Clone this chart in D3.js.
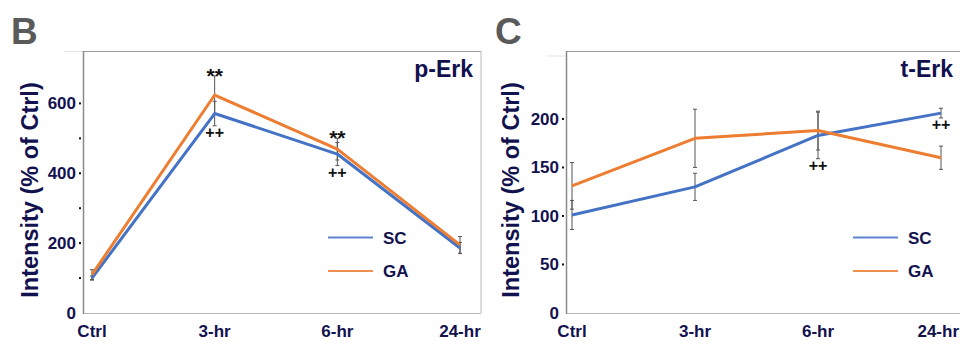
<!DOCTYPE html>
<html>
<head>
<meta charset="utf-8">
<script src="https://cdn.jsdelivr.net/npm/d3@7"></script>
<style>
body{margin:0;background:#fff;}
text{font-family:"Liberation Sans",Arial,sans-serif;font-weight:bold;}
</style>
</head>
<body>
<div id="STATS"></div>
<script>
var aTimes=["Ctrl","3-hr","6-hr","24-hr"];

// panel B, p-Erk
var aPErkSC=[100,571,455,186];
var aPErkSCErr=[6,35,33,16];
var aPErkGA=[110,624,469,195];
var aPErkGAErr=[14,55,31,24];
var aPErkStars=["","**","**",""];
var aPErkPlus=["","++","++",""];
var aPErkTicks=[0,200,400,600];
var aPErkDots=[100,200,300,400,500,600];

// panel C, t-Erk
var aTErkSC=[101,130,183,206];
var aTErkSCErr=[15,14,24,5];
var aTErkGA=[131,180,188,160];
var aTErkGAErr=[24,30,20,12];
var aTErkStars=["","","",""];
var aTErkPlus=["","","++","++"];
var aTErkTicks=[0,50,100,150,200];
var aTErkDots=[50,100,150,200];

var aSeries=["SC","GA"];
var aColors=["#4472C4","#ED7D31"];
var sNavy="#12124f";

var iWidth=960;
var iHeight=341;

var d3Canvas=d3.select("#STATS").append("svg")
	.attr("width",iWidth)
	.attr("height",iHeight);

function DrawPanel(myPanel)
{
	var g=d3Canvas.append("g");
	var xAxes=d3.scalePoint().domain(aTimes).range([myPanel.x0,myPanel.x1]);
	var yAxes=d3.scaleLinear().domain([0,myPanel.yMax]).range([313,51]);

	// faint stub left of frame top
	g.append("line").attr("x1",myPanel.left-19).attr("x2",myPanel.left)
		.attr("y1",myPanel.stubY).attr("y2",myPanel.stubY)
		.attr("stroke","#e4e4e4").attr("stroke-width",1);

	// frame
	g.append("line").attr("x1",myPanel.left).attr("x2",myPanel.right).attr("y1",51.5).attr("y2",51.5)
		.attr("stroke","#9a9a9a");
	g.append("line").attr("x1",myPanel.right).attr("x2",myPanel.right).attr("y1",51).attr("y2",313)
		.attr("stroke","#b8b8b8");
	g.append("line").attr("x1",myPanel.left).attr("x2",myPanel.right).attr("y1",313.5).attr("y2",313.5)
		.attr("stroke","#b8b8b8");
	g.append("line").attr("x1",myPanel.left+0.5).attr("x2",myPanel.left+0.5).attr("y1",51).attr("y2",314)
		.attr("stroke","#8a8a8a").attr("stroke-width",1.5);

	// y tick dots and labels
	g.selectAll(".dot").data(myPanel.dots).enter().append("rect")
		.attr("x",myPanel.left-4).attr("y",function(d){return yAxes(d)-1;})
		.attr("width",2).attr("height",2).attr("fill","#111");
	g.selectAll(".ylab").data(myPanel.ticks).enter().append("text")
		.attr("x",myPanel.left-7)
		.attr("y",function(d){return yAxes(d)+6;})
		.attr("text-anchor","end")
		.style("font-size","17px")
		.style("fill",sNavy)
		.text(function(d){return d;});

	// x labels, kept inside the window
	g.selectAll(".xlab").data(aTimes).enter().append("text")
		.attr("y",336.5)
		.attr("text-anchor","middle")
		.style("font-size","17px")
		.style("fill",sNavy)
		.text(function(d){return d;})
		.attr("x",function(d){
			var iHalf=this.getComputedTextLength()/2;
			return Math.min(xAxes(d),iWidth-1-iHalf);
		});

	// axis title
	g.append("text")
		.attr("transform","translate("+(myPanel.titleX)+",190) rotate(-90)")
		.attr("text-anchor","middle")
		.style("font-size","23.5px")
		.style("fill",sNavy)
		.text("Intensity (% of Ctrl)");

	// panel letter and name
	g.append("text").attr("x",myPanel.letterX).attr("y",44)
		.style("font-size","37px").style("fill","#5a5a5a")
		.text(myPanel.letter);
	g.append("text").attr("x",myPanel.nameX).attr("y",77)
		.attr("text-anchor","end")
		.style("font-size","23px").style("fill",sNavy)
		.text(myPanel.name);

	var aVals=[myPanel.sc,myPanel.ga];
	var aErrs=[myPanel.scErr,myPanel.gaErr];

	// error bars
	aVals.forEach(function(aV,s){
		var aRows=aTimes.map(function(t,i){return {t:t,v:aV[i],e:aErrs[s][i]};});
		var eb=g.selectAll(".eb"+s).data(aRows).enter().append("g");
		eb.append("line")
			.attr("x1",function(d){return xAxes(d.t);}).attr("x2",function(d){return xAxes(d.t);})
			.attr("y1",function(d){return yAxes(d.v+d.e);}).attr("y2",function(d){return yAxes(d.v-d.e);})
			.attr("stroke","#555").attr("stroke-width",1);
		[1,-1].forEach(function(k){
			eb.append("line")
				.attr("x1",function(d){return xAxes(d.t)-2;}).attr("x2",function(d){return xAxes(d.t)+2;})
				.attr("y1",function(d){return yAxes(d.v+k*d.e);}).attr("y2",function(d){return yAxes(d.v+k*d.e);})
				.attr("stroke","#555").attr("stroke-width",1);
		});
	});

	// lines
	var myLine=d3.line()
		.x(function(d,i){return xAxes(aTimes[i]);})
		.y(function(d){return yAxes(d);});
	aVals.forEach(function(aV,s){
		g.append("path").datum(aV)
			.attr("d",myLine)
			.attr("fill","none")
			.attr("stroke",aColors[s])
			.attr("stroke-width",3)
			.attr("stroke-linejoin","round");
	});

	// significance marks
	g.selectAll(".star").data(aTimes).enter().append("text")
		.attr("x",function(d){return xAxes(d);})
		.attr("y",function(d,i){return yAxes(myPanel.ga[i]+myPanel.gaErr[i])+7;})
		.attr("text-anchor","middle")
		.style("font-size","21px").style("fill","#111")
		.text(function(d,i){return myPanel.stars[i];});
	g.selectAll(".plus").data(aTimes).enter().append("text")
		.attr("x",function(d){return xAxes(d);})
		.attr("y",function(d,i){return yAxes(myPanel.sc[i]-myPanel.scErr[i])+12;})
		.attr("text-anchor","middle")
		.style("font-size","16px").style("fill","#111")
		.text(function(d,i){return myPanel.plus[i];});

	// legend
	aSeries.forEach(function(sName,s){
		var iY=237.5+s*33.5;
		g.append("line").attr("x1",myPanel.legX).attr("x2",myPanel.legX+45)
			.attr("y1",iY).attr("y2",iY)
			.attr("stroke",aColors[s]).attr("stroke-width",2).attr("opacity",0.85);
		g.append("text").attr("x",myPanel.legX+55).attr("y",iY+6)
			.style("font-size","17px").style("fill",sNavy)
			.text(sName);
	});
}

DrawPanel({left:83,right:481,x0:92,x1:460,yMax:750,stubY:51.5,
	ticks:aPErkTicks,dots:aPErkDots,titleX:38,letter:"B",letterX:11,name:"p-Erk",nameX:473,
	sc:aPErkSC,scErr:aPErkSCErr,ga:aPErkGA,gaErr:aPErkGAErr,stars:aPErkStars,plus:aPErkPlus,legX:328});

DrawPanel({left:566,right:975,x0:572,x1:941,yMax:270,stubY:56,
	ticks:aTErkTicks,dots:aTErkDots,titleX:519,letter:"C",letterX:495,name:"t-Erk",nameX:953,
	sc:aTErkSC,scErr:aTErkSCErr,ga:aTErkGA,gaErr:aTErkGAErr,stars:aTErkStars,plus:aTErkPlus,legX:853});
</script>
</body>
</html>
